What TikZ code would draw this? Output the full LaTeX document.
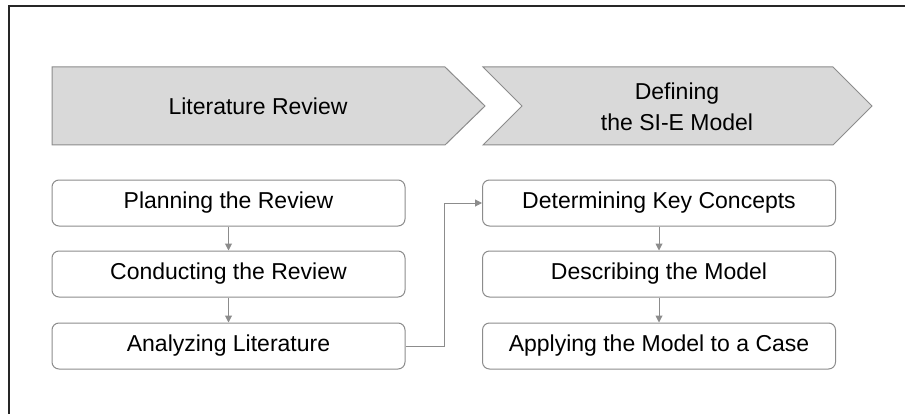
\documentclass[tikz,border=0pt]{standalone}
\usepackage{fontspec}
\setmainfont{Liberation Sans}
\usepackage{tikz}
\usetikzlibrary{arrows.meta, positioning}

\definecolor{chevfill}{HTML}{D9D9D9}
\definecolor{lineGray}{HTML}{8C8C8C}
\definecolor{frameGray}{HTML}{262626}

\begin{document}
\begin{tikzpicture}[x=1pt, y=-1pt]
		\tikzstyle{Chevron} = [draw=lineGray, fill=chevfill, line width=1pt, line join=miter]
		\tikzstyle{Phase} = [text centered, align=center, font=\fontsize{23}{31}\selectfont]
		\tikzstyle{Step} = [rectangle, rounded corners=7pt, minimum width=353pt, minimum height=46pt, text centered, draw=lineGray, line width=1pt, fill=white, font=\fontsize{23}{28}\selectfont]
		\tikzstyle{arrow} = [draw=lineGray, line width=1pt, -{Triangle[length=7pt,width=7pt]}]
		
		\useasboundingbox (0,0) rectangle (909,414);
		
		% frame
		\draw [line width=1.5pt, frameGray] (9,414) -- (9,6) -- (905,6);
		
		% phases
		\draw [Chevron] (52,67) -- (445,67) -- (485,106) -- (445,145) -- (52,145) -- cycle;
		\draw [Chevron] (483,67) -- (833,67) -- (872,106) -- (833,145) -- (483,145) -- (522,106) -- cycle;
		\node (litrev) [Phase] at (258,106) {Literature Review};
		\node (define) [Phase] at (677,107) {Defining\\the SI-E Model};
		
		% steps
		\node (plan) [Step] at (228.5,203) {Planning the Review};
		\node (conduct) [Step] at (228.5,274) {Conducting the Review};
		\node (analyze) [Step] at (228.5,346) {Analyzing Literature};
		\node (concepts) [Step] at (659,203) {Determining Key Concepts};
		\node (describe) [Step] at (659,274) {Describing the Model};
		\node (apply) [Step] at (659,346) {Applying the Model to a Case};
		
		\draw[arrow] (plan) -- (conduct);
		\draw[arrow] (conduct) -- (analyze);
		\draw[arrow] (analyze.east) -- ++(39,0) |- (concepts.west);
		\draw[arrow] (concepts) -- (describe);
		\draw[arrow] (describe) -- (apply);
\end{tikzpicture}
\end{document}
